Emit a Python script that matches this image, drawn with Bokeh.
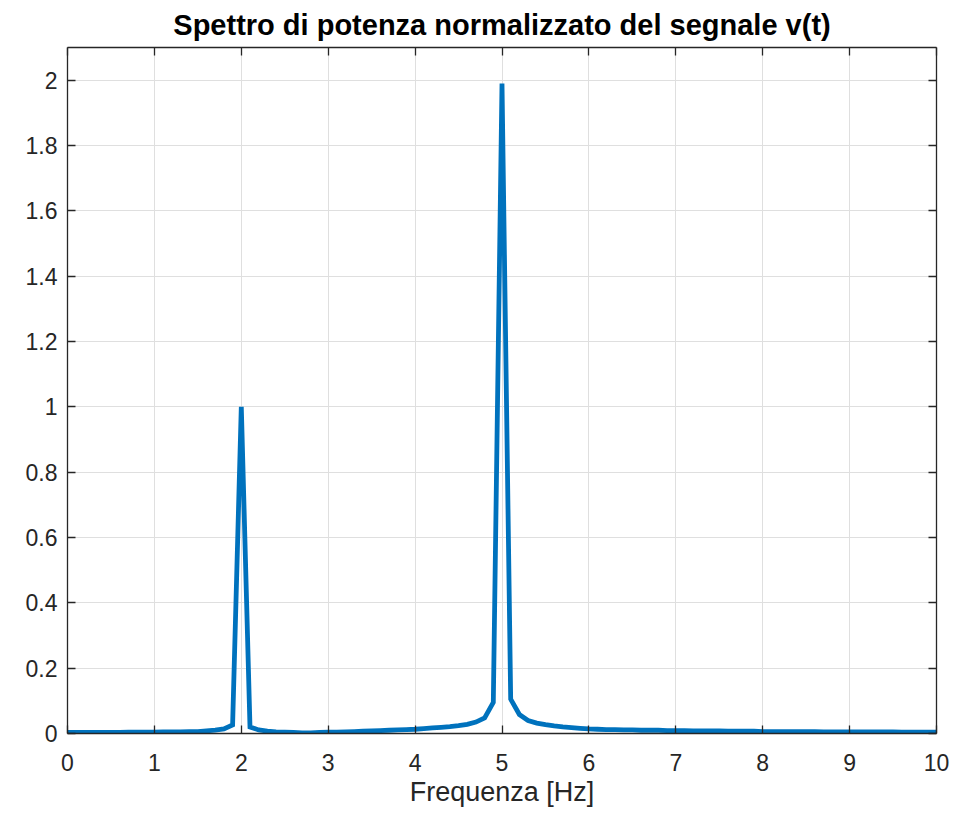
from bokeh.plotting import figure
from bokeh.models import (Range1d, FixedTicker, LinearAxis, CustomJSTickFormatter, Title)
from bokeh.embed import file_html
from bokeh.resources import INLINE

# Frequency bins (Hz) and normalized power spectrum values of v(t)
freq_hz = [round(0.1 * k, 1) for k in range(101)]
power = [
    0.003, 0.003, 0.003, 0.003, 0.003, 0.003, 0.003, 0.004, 0.004, 0.004,  # 0.0-0.9
    0.004, 0.005, 0.005, 0.005, 0.006, 0.006, 0.008, 0.010, 0.014, 0.026,  # 1.0-1.9
    1.000, 0.020, 0.011, 0.007, 0.005, 0.004, 0.003, 0.002, 0.002, 0.003,  # 2.0-2.9
    0.004, 0.004, 0.005, 0.006, 0.007, 0.008, 0.009, 0.010, 0.011, 0.012,  # 3.0-3.9
    0.013, 0.015, 0.017, 0.019, 0.021, 0.024, 0.028, 0.035, 0.048, 0.095,  # 4.0-4.9
    1.990, 0.105, 0.058, 0.040, 0.032, 0.027, 0.023, 0.020, 0.018, 0.016,  # 5.0-5.9
    0.014, 0.013, 0.012, 0.012, 0.011, 0.011, 0.010, 0.010, 0.010, 0.009,  # 6.0-6.9
    0.009, 0.009, 0.008, 0.008, 0.008, 0.008, 0.007, 0.007, 0.007, 0.007,  # 7.0-7.9
    0.006, 0.006, 0.006, 0.006, 0.006, 0.006, 0.006, 0.005, 0.005, 0.005,  # 8.0-8.9
    0.005, 0.005, 0.005, 0.005, 0.005, 0.005, 0.004, 0.004, 0.004, 0.004,  # 9.0-9.9
    0.004,                                                                 # 10.0
]

x_ticks = [0, 1, 2, 3, 4, 5, 6, 7, 8, 9, 10]
y_ticks = [0, 0.2, 0.4, 0.6, 0.8, 1.0, 1.2, 1.4, 1.6, 1.8, 2.0]
x_min, x_max = 0, 10
y_min, y_max = 0, 2.1

title_text = "Spettro di potenza normalizzato del segnale v(t)"
x_label = "Frequenza [Hz]"

FONT = "Liberation Sans"
INK = "#262626"
GRID = "#dfdfdf"
LINE = "#0072BD"

p = figure(
    frame_width=869, frame_height=686,
    x_range=Range1d(x_min, x_max), y_range=Range1d(y_min, y_max),
    output_backend="svg", toolbar_location=None,
    x_axis_location=None, y_axis_location=None,
    min_border_left=67, min_border_right=25,
    min_border_top=47, min_border_bottom=82,
    background_fill_color="white", border_fill_color="white",
)
p.outline_line_color = None

yfmt = CustomJSTickFormatter(code="return String(Math.round(tick * 10) / 10);")


def make_axis(ticks, show_labels, fmt=None):
    ax = LinearAxis(ticker=FixedTicker(ticks=ticks))
    if fmt is not None:
        ax.formatter = fmt
    ax.axis_line_color = INK
    ax.axis_line_width = 1.3
    ax.major_tick_line_color = INK
    ax.major_tick_line_width = 1.3
    ax.major_tick_in = 8
    ax.major_tick_out = 0
    ax.minor_tick_line_color = None
    ax.major_label_text_font = FONT
    ax.major_label_text_font_size = "23px"
    ax.major_label_text_color = INK
    if not show_labels:
        ax.major_label_text_alpha = 0
        ax.major_label_text_font_size = "1px"
        ax.major_label_standoff = 0
    return ax


xb = make_axis(x_ticks, True)
xb.major_label_standoff = 20
p.add_layout(xb, "below")

yl = make_axis(y_ticks, True, yfmt)
yl.major_label_standoff = 10
p.add_layout(yl, "left")

p.add_layout(make_axis(x_ticks, False), "above")
p.add_layout(make_axis(y_ticks, False), "right")

p.xgrid.grid_line_color = GRID
p.ygrid.grid_line_color = GRID
p.xgrid.ticker = FixedTicker(ticks=x_ticks)
p.ygrid.ticker = FixedTicker(ticks=y_ticks)

p.line(freq_hz, power, line_color=LINE, line_width=4.8, line_join="miter")

# Chart title above the frame, x-axis caption under the tick labels
p.add_layout(Title(text=title_text, align="center", text_font=FONT,
                   text_font_size="29px", text_font_style="bold",
                   text_color="black", standoff=13), "above")
p.add_layout(Title(text=x_label, align="center", text_font=FONT,
                   text_font_size="27px", text_font_style="normal",
                   text_color=INK, standoff=3), "below")

open("out.html", "w").write(file_html(p, INLINE))
